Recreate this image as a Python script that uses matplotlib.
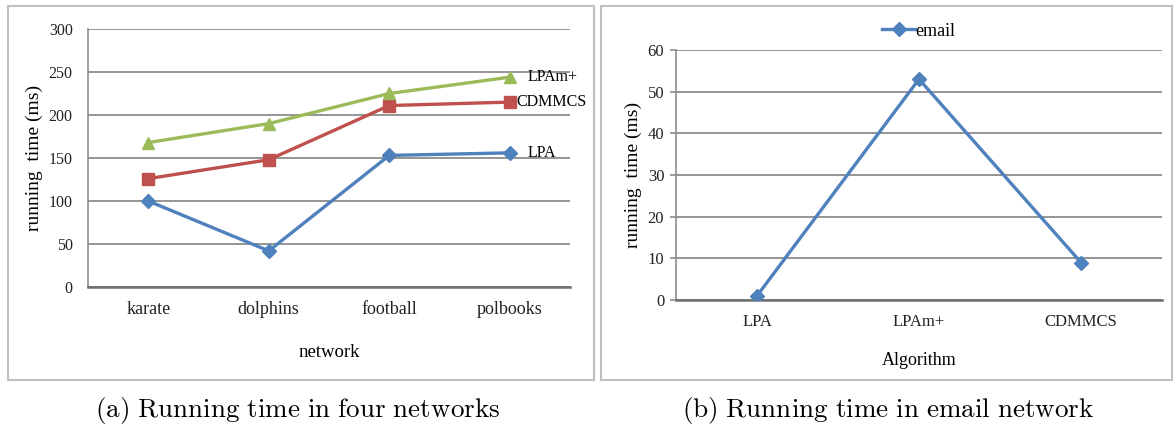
import matplotlib
matplotlib.use("Agg")
import matplotlib.pyplot as plt
from matplotlib.patches import Rectangle

networks = ["karate", "dolphins", "football", "polbooks"]
lpa = [100, 42, 153, 156]
cdmmcs = [126, 148, 211, 215]
lpam = [168, 190, 225, 244]

algorithms = ["LPA", "LPAm+", "CDMMCS"]
email = [1, 53, 9]

left_yticks = [0, 50, 100, 150, 200, 250, 300]
right_yticks = [0, 10, 20, 30, 40, 50, 60]

BLUE = "#4F81BD"
RED = "#C0504D"
GREEN = "#9BBB59"
GRID = "#8c8c8c"

plt.rcParams["font.family"] = ["Liberation Serif", "DejaVu Serif"]
plt.rcParams["mathtext.fontset"] = "cm"

W, H = 1176, 428
fig = plt.figure(figsize=(W / 100, H / 100), dpi=100)

# panel frames
for (x0, x1) in [(8, 594), (601, 1172)]:
    fig.patches.append(Rectangle((x0 / W, 1 - 380 / H), (x1 - x0) / W, (380 - 6) / H,
                                 transform=fig.transFigure, fill=False,
                                 edgecolor="#bfbfbf", linewidth=1.5))


def style_axes(ax, ymax, yticks, ylabsize, ytick_len, ypad, xlabsize):
    ax.set_ylim(0, ymax)
    ax.set_yticks(yticks)
    for s in ["top", "right"]:
        ax.spines[s].set_visible(False)
    ax.spines["left"].set_color(GRID)
    ax.spines["left"].set_linewidth(1.2)
    ax.spines["bottom"].set_color("#6e6e6e")
    ax.spines["bottom"].set_linewidth(1.8)
    ax.yaxis.grid(True, color=GRID, linewidth=1.3)
    ax.set_axisbelow(True)
    ax.tick_params(axis="y", length=ytick_len, width=1.2, color=GRID,
                   labelsize=ylabsize, pad=ypad, labelcolor="#222222")
    ax.tick_params(axis="x", length=0, labelsize=xlabsize, pad=10, labelcolor="#222222")


# left axes
ax1 = fig.add_axes([88 / W, 1 - 287 / H, (570 - 88) / W, (287 - 29) / H])
x = list(range(len(networks)))
ax1.plot(x, lpa, color=BLUE, lw=2.4, marker="D", ms=7, zorder=3)
ax1.plot(x, cdmmcs, color=RED, lw=2.4, marker="s", ms=8, zorder=3)
ax1.plot(x, lpam, color=GREEN, lw=2.4, marker="^", ms=9, zorder=3)
ax1.set_xlim(-0.5, len(networks) - 0.5)
ax1.set_xticks(x)
ax1.set_xticklabels(networks)
style_axes(ax1, 300, left_yticks, 11.5, 0, 11, 13)
ax1.set_ylabel("running  time (ms)", fontsize=14, labelpad=4)
ax1.set_xlabel("network", fontsize=13.5, labelpad=19)
ax1.annotate("LPAm+", (x[-1], lpam[-1]), xytext=(13, 0), textcoords="offset points",
             va="center", fontsize=11.5)
ax1.annotate("CDMMCS", (x[-1], cdmmcs[-1]), xytext=(5, 0), textcoords="offset points",
             va="center", fontsize=11.5)
ax1.annotate("LPA", (x[-1], lpa[-1]), xytext=(13, 0), textcoords="offset points",
             va="center", fontsize=11.5)

# right axes
ax2 = fig.add_axes([676 / W, 1 - 300 / H, (1162 - 676) / W, (300 - 50) / H])
x2 = list(range(len(algorithms)))
ax2.plot(x2, email, color=BLUE, lw=2.4, marker="D", ms=7, zorder=3, label="email")
ax2.set_xlim(-0.5, len(algorithms) - 0.5)
ax2.set_xticks(x2)
ax2.set_xticklabels(algorithms)
style_axes(ax2, 60, right_yticks, 12, 4.5, 4, 12)
ax2.set_ylabel("running  time (ms)", fontsize=14, labelpad=4)
ax2.set_xlabel("Algorithm", fontsize=13, labelpad=16)
ax2.legend(loc="lower center", bbox_to_anchor=(0.5, 1.012), frameon=False,
           fontsize=13, handlelength=1.8, handletextpad=0.05, borderaxespad=0)

# captions
fig.text(298 / W, 1 - 410 / H, r"$\mathrm{(a)\ Running\ time\ in\ four\ networks}$",
         ha="center", va="center", fontsize=19.5)
fig.text(888 / W, 1 - 410 / H, r"$\mathrm{(b)\ Running\ time\ in\ email\ network}$",
         ha="center", va="center", fontsize=19.5)

fig.savefig("out.png", dpi=100)
